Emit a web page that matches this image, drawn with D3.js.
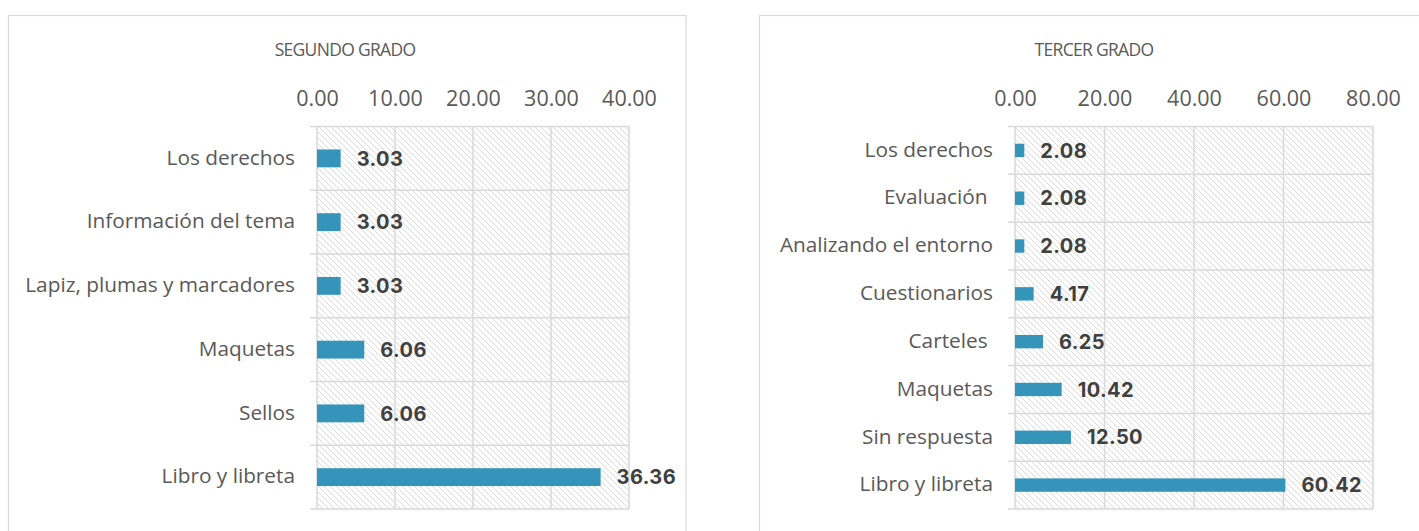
<!DOCTYPE html>
<html>
<head>
<meta charset="utf-8">
<script src="https://cdn.jsdelivr.net/npm/d3@7"></script>
<style>
  html, body { margin: 0; padding: 0; background: #fff; }
  svg { display: block; }
  text { white-space: pre; }
</style>
</head>
<body>
<svg id="chart" width="1419" height="531"></svg>
<script>
// Segundo grado
const segundoCategorias = ["Los derechos", "Información del tema", "Lapiz, plumas y marcadores", "Maquetas", "Sellos", "Libro y libreta"];
const segundoValores = [3.03, 3.03, 3.03, 6.06, 6.06, 36.36];
const segundoTicks = [0, 10, 20, 30, 40];

// Tercer grado
const tercerCategorias = ["Los derechos", "Evaluación ", "Analizando el entorno", "Cuestionarios", "Carteles ", "Maquetas", "Sin respuesta", "Libro y libreta"];
const tercerValores = [2.08, 2.08, 2.08, 4.17, 6.25, 10.42, 12.50, 60.42];
const tercerTicks = [0, 20, 40, 60, 80];

const titulos = ["SEGUNDO GRADO", "TERCER GRADO"];

const svg = d3.select("#chart");
const GRID = "#d9d9d9";
const BAR = "#3494ba";

// diagonal hatch used as plot-area fill
const defs = svg.append("defs");
const pat = defs.append("pattern")
  .attr("id", "hatch")
  .attr("patternUnits", "userSpaceOnUse")
  .attr("width", 6).attr("height", 6);
pat.append("rect").attr("width", 6).attr("height", 6).attr("fill", "#fff");
pat.append("path")
  .attr("d", "M-1,-1 L7,7 M-1,5 L1,7 M5,-1 L7,1")
  .attr("stroke", "#dcdcdc").attr("stroke-width", 1)
  .attr("shape-rendering", "crispEdges");

function drawPanel(cfg) {
  const { frame, plot, cats, vals, ticks, title, titleX } = cfg;
  const g = svg.append("g");

  // chart frame
  g.append("rect")
    .attr("x", frame.x).attr("y", frame.y)
    .attr("width", frame.w).attr("height", frame.h)
    .attr("fill", "#fff").attr("stroke", GRID).attr("stroke-width", 1.2);

  // title
  g.append("text")
    .attr("x", titleX).attr("y", 56)
    .attr("text-anchor", "middle")
    .attr("font-family", "Open Sans")
    .attr("font-size", 17.5)
    .attr("letter-spacing", -0.7)
    .attr("fill", "#595959")
    .text(title);

  const x = d3.scaleLinear().domain([ticks[0], ticks[ticks.length - 1]]).range([plot.x0, plot.x1]);
  const y = d3.scaleBand().domain(cats).range([plot.y0, plot.y1]).paddingInner(0.72).paddingOuter(0.36);
  const rows = d3.scaleBand().domain(cats).range([plot.y0, plot.y1]).padding(0);

  // plot area hatch
  g.append("rect")
    .attr("x", plot.x0).attr("y", plot.y0)
    .attr("width", plot.x1 - plot.x0).attr("height", plot.y1 - plot.y0)
    .attr("fill", "url(#hatch)");

  // vertical gridlines
  g.append("g").selectAll("line").data(ticks).join("line")
    .attr("x1", d => x(d)).attr("x2", d => x(d))
    .attr("y1", plot.y0).attr("y2", plot.y1)
    .attr("stroke", GRID).attr("stroke-width", 1.5);

  // horizontal row boundaries with small ticks to the left
  const bounds = cats.map(c => rows(c)).concat([plot.y1]);
  g.append("g").selectAll("line").data(bounds).join("line")
    .attr("x1", plot.x0 - 7).attr("x2", plot.x1)
    .attr("y1", d => d).attr("y2", d => d)
    .attr("stroke", GRID).attr("stroke-width", 1.5);

  // top value axis
  const xAxis = d3.axisTop(x).tickValues(ticks).tickSize(0).tickPadding(21)
    .tickFormat(d3.format(".2f"));
  const ax = g.append("g").attr("transform", `translate(0,${plot.y0})`).call(xAxis);
  ax.select(".domain").remove();
  ax.selectAll("text")
    .attr("font-family", "Open Sans").attr("font-size", 21.5).attr("fill", "#595959");

  // category axis
  const yAxis = d3.axisLeft(rows).tickSize(0).tickPadding(22);
  const ay = g.append("g").attr("transform", `translate(${plot.x0},0)`).call(yAxis);
  ay.select(".domain").remove();
  ay.selectAll("text")
    .attr("font-family", "Open Sans").attr("font-size", 20.8).attr("fill", "#595959")
    .attr("dy", "0.3em");

  // bars
  const data = cats.map((c, i) => ({ c, v: vals[i] }));
  g.append("g").selectAll("rect").data(data).join("rect")
    .attr("x", x(0)).attr("y", d => y(d.c))
    .attr("width", d => x(d.v) - x(0)).attr("height", y.bandwidth())
    .attr("fill", BAR);

  // value labels
  g.append("g").selectAll("text").data(data).join("text")
    .attr("x", d => x(d.v) + 16)
    .attr("y", d => y(d.c) + y.bandwidth() / 2)
    .attr("dy", "0.36em")
    .attr("font-family", "Inter").attr("font-weight", 700).attr("font-size", 20)
    .attr("letter-spacing", 0.4)
    .attr("fill", "#404040")
    .text(d => d3.format(".2f")(d.v));
}

drawPanel({
  frame: { x: 8.5, y: 15.5, w: 677.5, h: 540 },
  plot: { x0: 317, x1: 629, y0: 126.5, y1: 509 },
  cats: segundoCategorias, vals: segundoValores, ticks: segundoTicks,
  title: titulos[0], titleX: 345
});

drawPanel({
  frame: { x: 759.5, y: 15.5, w: 680, h: 540 },
  plot: { x0: 1015, x1: 1373, y0: 126.5, y1: 509 },
  cats: tercerCategorias, vals: tercerValores, ticks: tercerTicks,
  title: titulos[1], titleX: 1094
});
</script>
</body>
</html>
